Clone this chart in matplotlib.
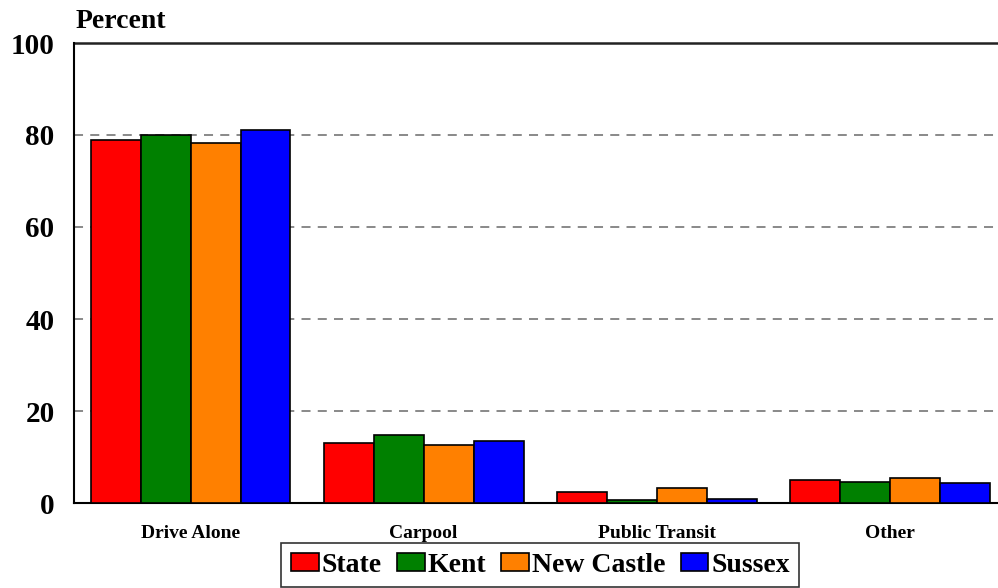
import matplotlib
matplotlib.use('Agg')
import matplotlib.pyplot as plt
import numpy as np

plt.rcParams['font.family'] = ['Liberation Serif', 'DejaVu Serif']
plt.rcParams['font.weight'] = 'bold'

categories = ['Drive Alone', 'Carpool', 'Public Transit', 'Other']
series = ['State', 'Kent', 'New Castle', 'Sussex']
state = [79.0, 13.1, 2.5, 5.1]
kent = [79.9, 14.7, 0.6, 4.6]
new_castle = [78.2, 12.6, 3.2, 5.5]
sussex = [81.1, 13.5, 0.8, 4.3]
colors = ['#ff0000', '#008000', '#ff8000', '#0000ff']
yticks = [0, 20, 40, 60, 80, 100]

fig = plt.figure(figsize=(9.98, 5.88), dpi=100)
ax = fig.add_axes([74 / 998, 85 / 588, 932.5 / 998, 460 / 588])

x = np.arange(len(categories))
w = 0.2143
for i, (vals, name, c) in enumerate(zip([state, kent, new_castle, sussex], series, colors)):
    ax.bar(x + (i - 1.5) * w, vals, width=w, color=c, edgecolor='black',
           linewidth=1.2, label=name, zorder=3)

ax.set_xlim(-0.5, 3.5)
ax.set_ylim(0, 100)
ax.set_yticks(yticks)
ax.set_yticklabels([str(v) for v in yticks], fontsize=21, fontweight='bold')
ax.set_xticks(x)
ax.set_xticklabels(categories, fontsize=14, fontweight='bold')
ax.tick_params(axis='y', length=0, pad=14)
ax.tick_params(axis='x', length=0, pad=16)

for v in yticks[1:-1]:
    ax.axhline(v, color='#808080', linestyle=(0, (5, 4)), linewidth=1.3, zorder=1)
ax.axhline(100, color='#222222', linewidth=1.8, zorder=2, clip_on=False)

ax.spines['top'].set_visible(False)
ax.spines['right'].set_visible(False)
ax.spines['left'].set_linewidth(1.5)
ax.spines['bottom'].set_linewidth(1.5)

ax.text(0.002, 1.02, 'Percent', transform=ax.transAxes, fontsize=20,
        fontweight='bold', ha='left', va='bottom')

leg = ax.legend(loc='upper center', bbox_to_anchor=(0.5, -0.087), ncol=4,
                frameon=True, fancybox=False, fontsize=20, handlelength=1.0,
                handleheight=0.65, handletextpad=0.1, columnspacing=0.55,
                borderpad=0.35, borderaxespad=0)
leg.get_frame().set_edgecolor('black')
leg.get_frame().set_linewidth(1.2)
for t in leg.get_texts():
    t.set_fontweight('bold')

fig.savefig('out.png', dpi=100)
